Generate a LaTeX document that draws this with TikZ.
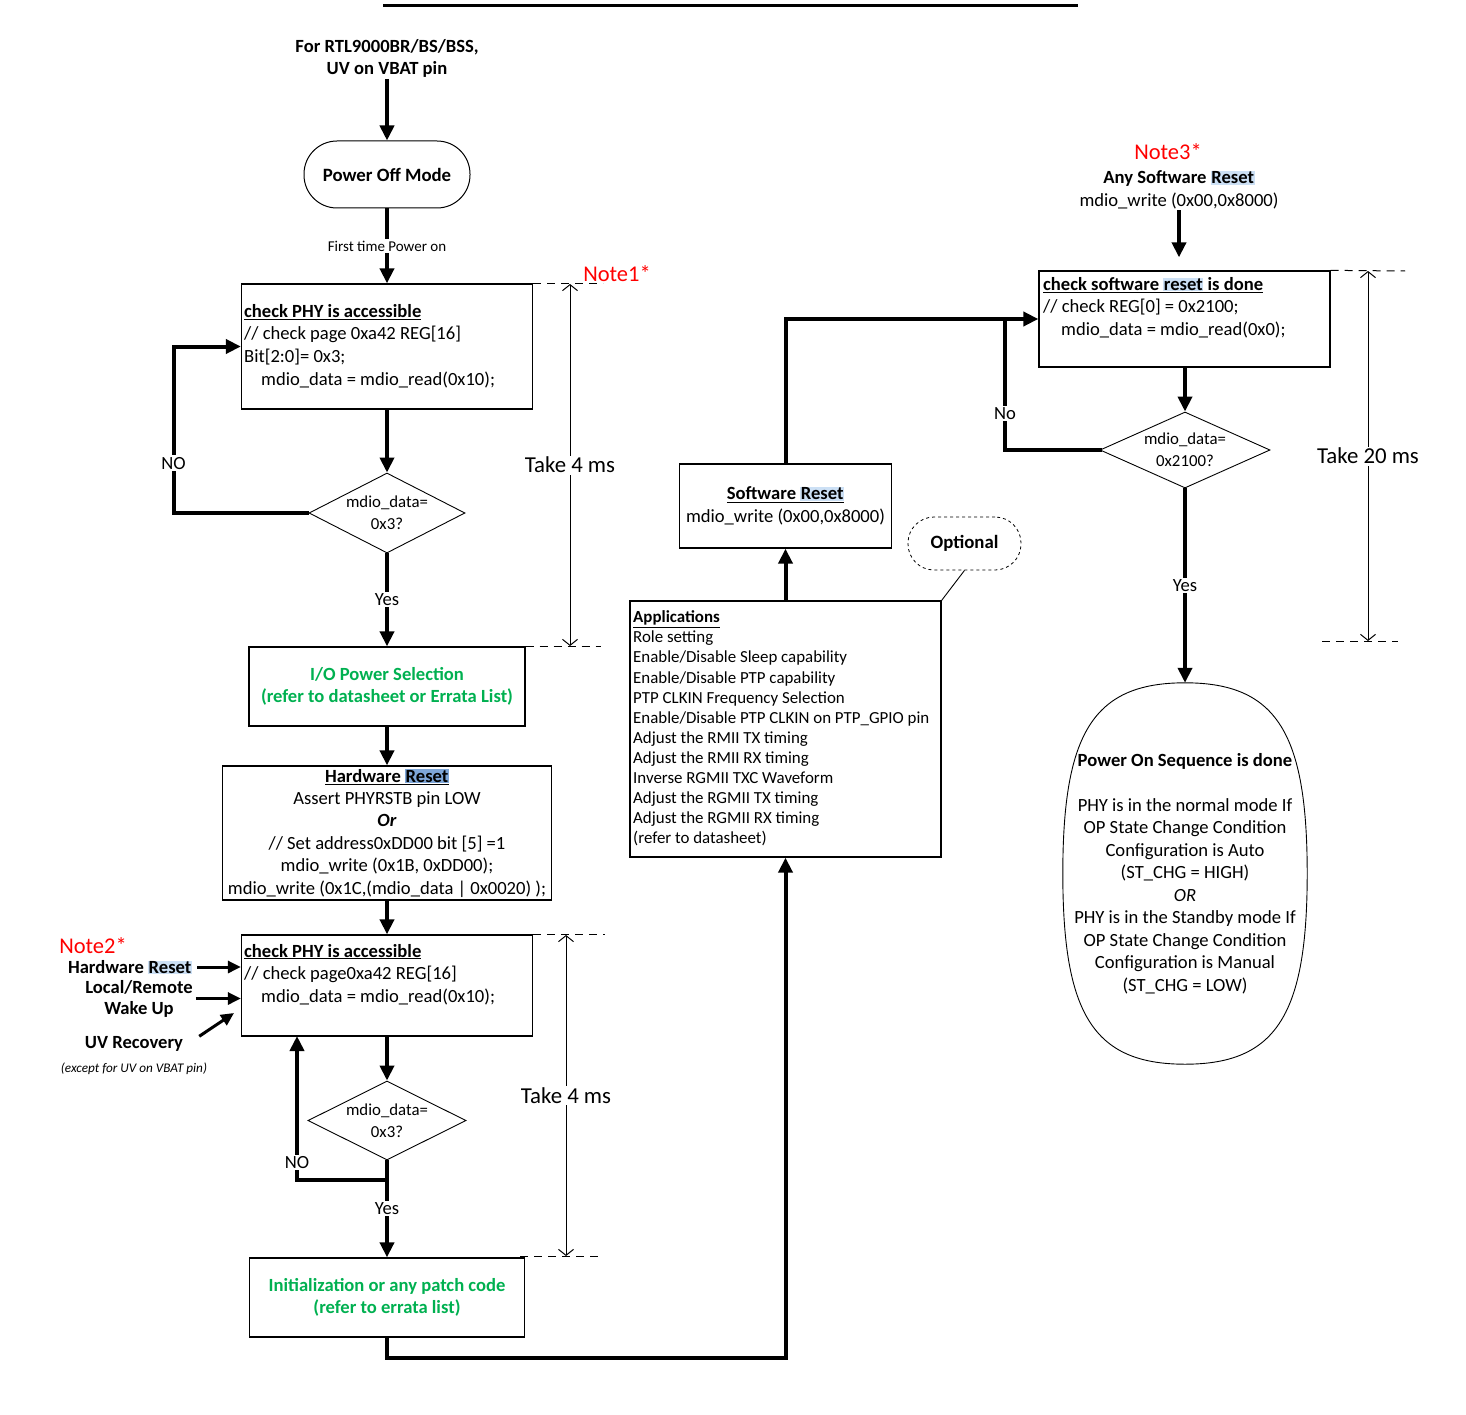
\documentclass[tikz,border=0pt]{standalone}
\usepackage{fontspec}
\setmainfont{Carlito}
\usetikzlibrary{arrows.meta,positioning,shapes.geometric}
\definecolor{ink}{HTML}{000000}
\definecolor{okgreen}{HTML}{00B050}
\definecolor{notered}{HTML}{FF0000}
\definecolor{hlblue}{HTML}{CCE0F5}
\definecolor{hldark}{HTML}{7EA6D8}
\newcommand{\hl}[2][hlblue]{{\setlength{\fboxsep}{0.6pt}\colorbox{#1}{#2}}}
\newcommand{\fs}[2]{\fontsize{#1}{#2}\selectfont}
\tikzset{
  box/.style={draw=ink,line width=1.3pt,align=center,inner sep=0pt,font=\fs{18.6}{22.4}},
  gbox/.style={box,text=okgreen,font=\fs{18.6}{22.5}\bfseries},
  txt/.style={align=left,inner sep=0pt,font=\fs{18.6}{22.6}},
  dec/.style={diamond,draw=ink,line width=0.9pt,inner sep=0pt,aspect=2},
  dtxt/.style={align=center,inner sep=0pt,font=\fs{16.8}{22}},
  term/.style={draw=ink,line width=1pt,rounded corners=33pt,align=center,font=\fs{18.8}{20}},
  head/.style={align=center,inner sep=1pt,font=\fs{18.6}{22.5}\bfseries},
  note/.style={text=notered,inner sep=0pt,font=\fs{22.5}{24}},
  lbl/.style={fill=white,inner sep=1.5pt,font=\fs{18.6}{20}},
  flow/.style={-{Triangle[length=15pt,width=14pt]},line width=4pt,color=ink},
  flowline/.style={line width=4pt,line cap=rect,color=ink},
  side/.style={-{Triangle[length=13pt,width=12pt]},line width=3pt,color=ink},
  dim/.style={{Straight Barb[length=6pt,width=15pt]}-{Straight Barb[length=6pt,width=15pt]},line width=1pt},
  ext/.style={line width=1pt,dash pattern=on 8pt off 6pt}}
\begin{document}
\begin{tikzpicture}[x=1pt,y=-1pt]
\useasboundingbox (0,0) rectangle (1466,1415);
\draw[line width=3pt] (383,5.5) -- (1078,5.5);
% left column
\node[head] (src) at (387,58.5) {For RTL9000BR/BS/BSS,\\UV on VBAT pin};
\node[term,minimum width=166pt,minimum height=67pt] (pom) at (387,174.5) {\textbf{Power Off Mode}};
\node[box,minimum width=291pt,minimum height=125pt] (chkA) at (387,346.5) {};
\node[txt,anchor=west] (chkAt) at (244,346) {\underline{\textbf{check PHY is accessible}}\\// check page 0xa42 REG[16]\\Bit[2:0]= 0x3;\\\hspace*{17pt}mdio\_data = mdio\_read(0x10);};
\node[dec,minimum width=156pt,minimum height=80pt,label={[dtxt]center:mdio\_data=\\0x3?}] (decA) at (387,513) {};
\node[gbox,minimum width=276pt,minimum height=79pt] (io) at (387,686.5) {I/O Power Selection\\(refer to datasheet or Errata List)};
\node[box,minimum width=329pt,minimum height=134pt] (hwr) at (387,833) {\underline{\textbf{Hardware \hl[hldark]{Reset}}}\\Assert PHYRSTB pin LOW\\\textbf{\textit{Or}}\\// Set address0xDD00 bit [5] =1\\mdio\_write (0x1B, 0xDD00);\\mdio\_write (0x1C,(mdio\_data | 0x0020) );};
\node[box,minimum width=291pt,minimum height=101pt] (chkB) at (387,985.5) {};
\node[txt,anchor=west] (chkBt) at (244,974.5) {\underline{\textbf{check PHY is accessible}}\\// check page0xa42 REG[16]\\\hspace*{17pt}mdio\_data = mdio\_read(0x10);};
\node[dec,minimum width=158pt,minimum height=79pt,label={[dtxt]center:mdio\_data=\\0x3?}] (decB) at (387,1120.5) {};
\node[gbox,minimum width=275pt,minimum height=79pt] (init) at (387,1297.5) {Initialization or any patch code\\(refer to errata list)};
% wake-up sources
\node[note] (n2) at (93,946) {Note2*};
\node[head,inner sep=0pt] (inHw) at (130,967) {Hardware \hl{Reset}};
\node[head,inner sep=0pt,font=\fs{18.6}{21}\bfseries] (inWk) at (139,998.5) {Local/Remote\\Wake Up};
\node[head,inner sep=0pt] (inUv) at (134,1044) {UV Recovery};
\node[inner sep=0pt,font=\fs{13.2}{15}\itshape] (inEx) at (134,1069) {(except for UV on VBAT pin)};
\coordinate (uvTip) at (234,1013);
% middle column
\node[box,minimum width=311pt,minimum height=256pt] (apps) at (785.5,729) {};
\node[txt,anchor=west,font=\fs{16.9}{20.1}] (appsT) at (633,728.5) {\underline{\textbf{Applications}}\\Role setting\\Enable/Disable Sleep capability\\Enable/Disable PTP capability\\PTP CLKIN Frequency Selection\\Enable/Disable PTP CLKIN on PTP\_GPIO pin\\Adjust the RMII TX timing\\Adjust the RMII RX timing\\Inverse RGMII TXC Waveform\\Adjust the RGMII TX timing\\Adjust the RGMII RX timing\\(refer to datasheet)};
\node[box,minimum width=212pt,minimum height=84pt] (swr) at (785.5,506) {\underline{\textbf{Software \hl{Reset}}}\\mdio\_write (0x00,0x8000)};
\node[term,dashed,line width=0.8pt,rounded corners=26pt,minimum width=113pt,minimum height=53pt] (opt) at (964.5,543.5) {\textbf{Optional}};
% right column
\node[note] (n3) at (1168,152) {Note3*};
\node[head] (anysw) at (1179,190) {Any Software \hl{Reset}\\\mdseries mdio\_write (0x00,0x8000)};
\node[box,minimum width=291pt,minimum height=96pt] (chkC) at (1184.5,319) {};
\node[txt,anchor=west] (chkCt) at (1043,307.5) {\underline{\textbf{check software \hl{reset} is done}}\\// check REG[0] = 0x2100;\\\hspace*{18pt}mdio\_data = mdio\_read(0x0);};
\node[dec,minimum width=170pt,minimum height=76pt,label={[dtxt]center:mdio\_data=\\0x2100?}] (decC) at (1185,450) {};
\node[align=center,inner sep=0pt,minimum width=244pt,minimum height=381pt,font=\fs{18.6}{22.5}] (pwr) at (1185,873.5) {\textbf{Power On Sequence is done}\\[22.5pt]PHY is in the normal mode If\\OP State Change Condition\\Configuration is Auto\\(ST\_CHG = HIGH)\\\textit{OR}\\PHY is in the Standby mode If\\OP State Change Condition\\Configuration is Manual\\(ST\_CHG = LOW)};
\draw[line width=0.9pt] (pwr.north) .. controls +(92,0) and +(0,-140) .. (pwr.east) .. controls +(0,140) and +(92,0) .. (pwr.south) .. controls +(-92,0) and +(0,140) .. (pwr.west) .. controls +(0,-140) and +(-92,0) .. (pwr.north);
\node[note] (n1) at (617,274) {Note1*};
% connectors
\draw[flow] (src) -- (pom);
\draw[flow] (pom) -- node[lbl,font=\fs{15}{16}]{First time Power on} (chkA);
\draw[flow] (chkA) -- (decA);
\draw[flow] (decA.west) -- ++(-135,0) |- node[lbl,pos=0.15]{NO} (chkA.west);
\draw[flow] (decA) -- node[lbl]{Yes} (io);
\draw[flow] (io) -- (hwr);
\draw[flow] (hwr) -- (chkB);
\draw[flow] (chkB) -- (decB);
\draw[flow] (decB) -- node[lbl]{Yes} (init);
\coordinate (noB) at (387,1180); \coordinate (noBt) at (297,1036);
\draw[flow] (noB) -| node[lbl,pos=0.56]{NO} (noBt);
\draw[side] (inHw.east) ++(5,0) -- (inHw.east -| chkB.west);
\draw[side] (inWk.east) ++(3,0) -- (inWk.east -| chkB.west);
\draw[side] ([xshift=16pt]inUv.north east) -- (uvTip);
\draw[flow] (init.south) -- ++(0,20) -| (apps.south);
\draw[flow] (apps) -- (swr);
\draw[line width=0.9pt] (opt.south) -- (apps.north east);
\draw[flow] (swr.north) |- (chkC.west);
\draw[flow] (anysw.south) -- ([yshift=13pt]anysw.south |- chkC.north);
\draw[flow] (chkC.south -| decC.north) -- (decC);
\coordinate (noC) at (1005,319);
\draw[flowline] (decC.west) -| node[lbl,pos=0.64]{No} (noC);
\draw[flow] (decC) -- node[lbl]{Yes} (pwr);
% timing
\coordinate (t1a) at (570,284); \coordinate (t1b) at (570,646);
\draw[ext] (chkA.north east) -- ++(70,0); \draw[ext] (io.north east) -- ++(75,0);
\draw[dim] (t1a) -- node[lbl,font=\fs{22.8}{24}]{Take 4 ms} (t1b);
\coordinate (t2a) at (566,935); \coordinate (t2b) at (566,1256);
\draw[ext] (chkB.north east) -- ++(72,0); \draw[ext] (520,1256) -- (598,1256);
\draw[dim] (t2a) -- node[lbl,font=\fs{22.8}{24}]{Take 4 ms} (t2b);
\coordinate (t3a) at (1368,271); \coordinate (t3b) at (1368,641);
\draw[ext] (chkC.north east) -- (1405,271); \draw[ext] (1322,641) -- (1398,641);
\draw[dim] (t3a) -- node[lbl,font=\fs{22.8}{24}]{Take 20 ms} (t3b);
\end{tikzpicture}
\end{document}
